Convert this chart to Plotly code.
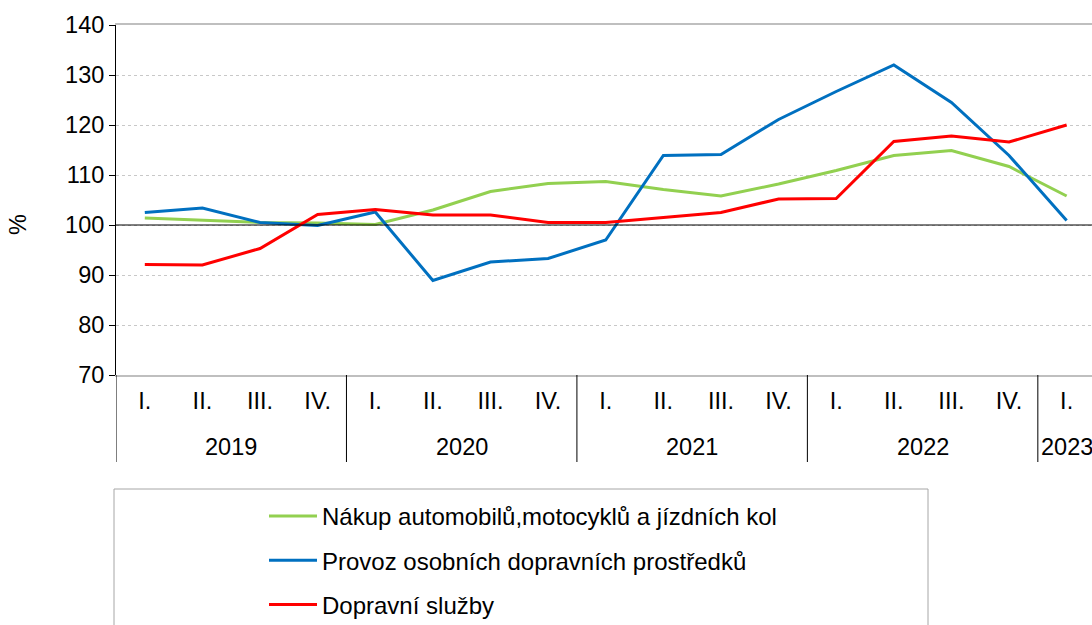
import plotly.graph_objects as go

years = ["2019"] * 4 + ["2020"] * 4 + ["2021"] * 4 + ["2022"] * 4 + ["2023"]
quarters = ["I.", "II.", "III.", "IV."] * 4 + ["I."]

nakup = [101.4, 101.0, 100.5, 100.4, 100.1, 103.0, 106.7, 108.3, 108.7, 107.1,
         105.8, 108.2, 110.9, 113.9, 114.9, 111.7, 105.8]
provoz = [102.5, 103.4, 100.5, 99.9, 102.6, 88.9, 92.6, 93.3, 97.0, 113.9,
          114.1, 121.1, 126.7, 132.0, 124.5, 113.9, 100.9]
sluzby = [92.1, 92.0, 95.3, 102.1, 103.1, 102.0, 102.0, 100.5, 100.5, 101.5,
          102.5, 105.2, 105.3, 116.7, 117.8, 116.6, 120.0]

names = ["Nákup automobilů,motocyklů a jízdních kol",
         "Provoz osobních dopravních prostředků",
         "Dopravní služby"]
colors = ["#92D050", "#0070C0", "#FF0000"]

FONT = "Liberation Sans, Arial, sans-serif"
TICK = 23.5
W, H = 1092, 625
PL, PT, PB = 116, 25, 375   # plot area edges in px
PW, PH = W - PL, float(PB - PT)

idx = list(range(len(quarters)))

fig = go.Figure()
for i, (vals, name, col) in enumerate(zip([nakup, provoz, sluzby], names, colors)):
    fig.add_trace(go.Scatter(
        x=idx, y=vals, mode="lines", name=name,
        line=dict(color=col, width=3), legendgroup=f"g{i}",
    ))

fig.add_hline(y=100, line=dict(color="black", width=1))

# year groups: labels and dividers
groups = []
for i, yr in enumerate(years):
    if not groups or groups[-1][0] != yr:
        groups.append([yr, i, i])
    else:
        groups[-1][2] = i

div_bottom = (PB - 462) / PH
for yr, a, b in groups:
    fig.add_annotation(x=(a + b) / 2, y=(PB - 447) / PH, xref="x", yref="paper",
                       text=yr, showarrow=False, yanchor="middle", xanchor="center",
                       font=dict(family=FONT, size=TICK, color="black"))
    fig.add_shape(type="line", xref="x", yref="paper", x0=a - 0.5, x1=a - 0.5,
                  y0=0, y1=div_bottom, line=dict(color="black", width=1))

# y axis title
fig.add_annotation(x=(18 - PL) / PW, y=(PB - 225) / PH, xref="paper", yref="paper",
                   text="%", textangle=-90, showarrow=False,
                   xanchor="center", yanchor="middle",
                   font=dict(family=FONT, size=TICK, color="black"))

# legend box
fig.add_shape(type="rect", xref="paper", yref="paper",
              x0=(114 - PL) / PW, x1=(928 - PL) / PW,
              y0=(PB - 640) / PH, y1=(PB - 489) / PH,
              line=dict(color="#A6A6A6", width=1), fillcolor="rgba(0,0,0,0)", layer="above")

fig.update_layout(
    width=W, height=H,
    margin=dict(l=PL, r=0, t=PT, b=H - PB, autoexpand=False),
    paper_bgcolor="white", plot_bgcolor="white",
    font=dict(family=FONT, size=TICK, color="black"),
    showlegend=True,
    legend=dict(
        xref="container", yref="container",
        x=264 / W, xanchor="left",
        y=1 - 494 / H, yanchor="top",
        bgcolor="rgba(0,0,0,0)", borderwidth=0,
        font=dict(family=FONT, size=24, color="black"),
        tracegroupgap=10, itemwidth=48,
    ),
    xaxis=dict(
        range=[-0.5, 16.44], automargin=False,
        tickmode="array", tickvals=idx, ticktext=quarters,
        showline=True, linecolor="#BFBFBF", linewidth=2, mirror=True,
        ticks="", showgrid=False, zeroline=False,
        ticklabelstandoff=4,
        tickfont=dict(family=FONT, size=TICK, color="black"),
    ),
    yaxis=dict(
        range=[70, 140], dtick=10, automargin=False,
        showline=True, linecolor="black", linewidth=1,
        ticks="outside", ticklen=6, tickcolor="black",
        showgrid=True, gridcolor="#C8C8C8", griddash="dot", gridwidth=1,
        zeroline=False,
        tickfont=dict(family=FONT, size=TICK, color="black"),
    ),
)

fig.write_html(
    "out.html",
    config={"displayModeBar": False},
    post_script="document.body.style.margin='0';document.body.style.overflow='hidden';",
)
